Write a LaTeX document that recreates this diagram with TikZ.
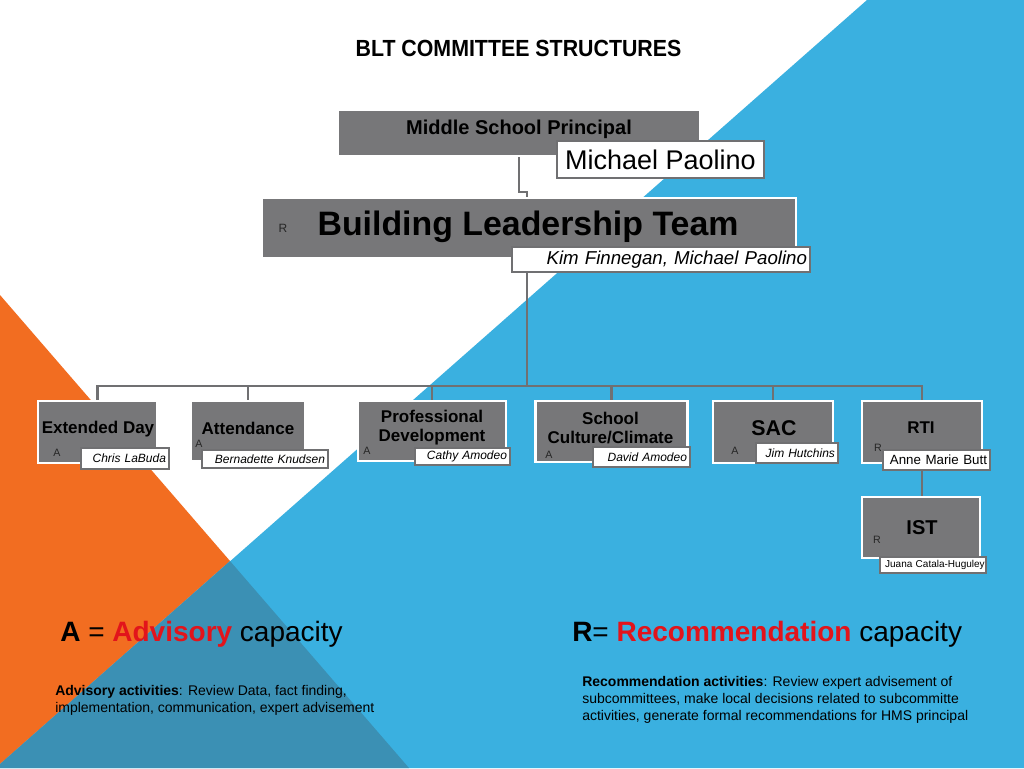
\documentclass[tikz,border=0pt]{standalone}
\usepackage{fontspec}
\setmainfont{Liberation Sans}
\definecolor{bgblue}{RGB}{58,176,224}
\definecolor{bgorange}{RGB}{242,109,33}
\definecolor{bgdark}{RGB}{59,144,180}
\definecolor{boxgray}{RGB}{119,119,121}
\definecolor{linegray}{RGB}{112,112,114}
\definecolor{redtxt}{RGB}{226,20,27}
\begin{document}
\begin{tikzpicture}[x=0.75pt,y=-0.75pt,
  box/.style={draw=white, line width=2pt, fill=boxgray, inner sep=0pt},
  sz/.style 2 args={minimum width={#1*0.75pt}, minimum height={#2*0.75pt}},
  nlab/.style={draw=linegray, line width=1.8pt, fill=white, inner ysep=0pt, inner xsep=2.25pt, align=right, text=black},
  conn/.style={draw=linegray, line width=2.2pt},
  ttl/.style={font=\fontsize{12.75}{14.25}\selectfont\bfseries, align=center, inner sep=0pt, text=black},
  capltr/.style={font=\fontsize{8}{9}\selectfont, inner sep=0pt, text=black!85},
  nmit/.style={font=\fontsize{9}{10}\selectfont\itshape},
]
\useasboundingbox (0,0) rectangle (1024,768);
% background
\fill[white] (0,0) rectangle (1024,768);
\fill[bgblue] (867,0) -- (1024,0) -- (1024,768) -- (0,768) -- (0,764) -- cycle;
\fill[bgorange] (0,295) -- (230,561) -- (0,764) -- cycle;
\fill[bgdark] (230,561) -- (409,768) -- (0,768) -- (0,764) -- cycle;

% title
\node[inner sep=0pt, font=\fontsize{17.5}{20}\selectfont\bfseries] (title) at (518.5,48) {\scalebox{0.915}[1]{BLT COMMITTEE STRUCTURES}};

% boxes
\node[box, sz={362}{46}] (msp) at (519,133) {};
\node[box, sz={534}{60}] (blt) at (529,228) {};
\node[box, sz={119}{62}] (ext) at (97.5,432) {};
\node[box, sz={115}{60}] (att) at (248,431) {};
\node[box, sz={148}{60}] (pd) at (432,431) {};
\node[box, sz={152}{61}] (scc) at (611.5,431.5) {};
\node[box, sz={120}{62}] (sac) at (773,432) {};
\node[box, sz={120}{62}] (rti) at (922,432) {};
\node[box, sz={118}{61}] (ist) at (921,527.5) {};

% connectors
\coordinate (jog) at (527,192);
\coordinate (bus) at (527,386);
\draw[conn] (msp.south) |- (jog) -- (blt.north -| jog);
\draw[conn] (blt.south -| bus) -- (bus);
\draw[conn] (bus) -| (ext.north);
\draw[conn] (bus) -| (att.north);
\draw[conn] (bus) -| (pd.north);
\draw[conn] (bus) -| (scc.north);
\draw[conn] (bus) -| (sac.north);
\draw[conn] (bus) -| (rti.north);
\draw[conn] (rti.south) -- (rti.south |- ist.north);

% box texts
\node[inner sep=0pt, font=\fontsize{15}{17}\selectfont\bfseries] (mspT) at (519,129) {Middle School Principal};
\node[inner sep=0pt, font=\fontsize{25.4}{28}\selectfont\bfseries] (bltT) at (528,227) {Building Leadership Team};
\node[capltr, font=\fontsize{9}{10}\selectfont] (bltR) at (283,228) {R};
\node[ttl] (extT) at (98,429) {Extended Day};
\node[ttl] (attT) at (248,428) {Attendance};
\node[ttl] (pdT) at (432,427.5) {Professional\\Development};
\node[ttl] (sccT) at (610.5,428) {School\\Culture/Climate};
\node[ttl, font=\fontsize{16}{18}\selectfont\bfseries] (sacT) at (774,428) {SAC};
\node[ttl] (rtiT) at (921,428) {RTI};
\node[ttl, font=\fontsize{15}{17}\selectfont\bfseries] (istT) at (922,528) {IST};

\node[capltr] (extA) at (57,453) {A};
\node[capltr] (attA) at (199,444) {A};
\node[capltr] (pdA) at (367,451) {A};
\node[capltr] (sccA) at (549,455) {A};
\node[capltr] (sacA) at (735,451) {A};
\node[capltr] (rtiR) at (878,448) {R};
\node[capltr] (istR) at (877,540) {R};

% name labels
\node[draw=linegray, line width=1.8pt, fill=white, inner sep=0pt, sz={207}{37}, font=\fontsize{20.25}{22}\selectfont] (mpL) at (660.5,159.5) {Michael Paolino};
\node[nlab, sz={298}{25}, text width=219pt, font=\fontsize{14}{16}\selectfont\itshape] (kimL) at (661,259.5) {Kim Finnegan, Michael Paolino};
\node[nlab, sz={88}{21}, text width=61.5pt, nmit] (extL) at (125,458.5) {Chris LaBuda};
\node[nlab, sz={126}{18}, text width=90pt, nmit] (attL) at (265,459) {Bernadette Knudsen};
\node[nlab, sz={95}{17}, text width=66.75pt, nmit] (pdL) at (462.5,456.5) {Cathy Amodeo};
\node[nlab, sz={97}{20}, text width=68.25pt, nmit] (sccL) at (641.5,457) {David Amodeo};
\node[nlab, sz={82}{20}, text width=57pt, nmit] (sacL) at (797,453) {Jim Hutchins};
\node[nlab, sz={107}{20}, text width=75.75pt, font=\fontsize{10}{11}\selectfont] (rtiL) at (936.5,460) {Anne Marie Butt};
\node[nlab, sz={106}{16}, inner xsep=1pt, text width=77.5pt, font=\fontsize{7.5}{9}\selectfont] (istL) at (933,565) {Juana Catala-Huguley};

% legend
\node[anchor=base west, inner sep=0pt, font=\fontsize{21}{24}\selectfont] (legA) at (60,641) {\textbf{A} = \textcolor{redtxt}{\textbf{Advisory}} capacity};
\node[anchor=base west, inner sep=0pt, font=\fontsize{21}{24}\selectfont] (legR) at (572,641) {\textbf{R}= \textcolor{redtxt}{\textbf{Recommendation}} capacity};
\node[anchor=north west, inner sep=0pt, align=left, font=\fontsize{10.5}{12.75}\selectfont] (advAct) at (55,685) {\textbf{Advisory activities}: Review Data, fact finding,\\implementation, communication, expert advisement};
\node[anchor=north west, inner sep=0pt, align=left, font=\fontsize{10.5}{12.75}\selectfont] (recAct) at (582,676) {\textbf{Recommendation activities}: Review expert advisement of\\subcommittees, make local decisions related to subcommitte\\activities, generate formal recommendations for HMS principal};
\end{tikzpicture}
\end{document}
